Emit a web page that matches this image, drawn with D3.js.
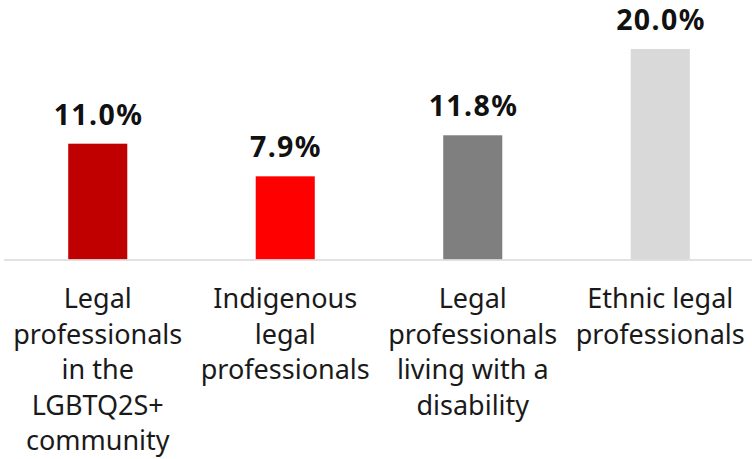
<!DOCTYPE html>
<html>
<head>
<meta charset="utf-8">
<script src="https://cdn.jsdelivr.net/npm/d3@7"></script>
<style>
  html, body { margin: 0; padding: 0; background: #ffffff; }
  svg { display: block; }
</style>
</head>
<body>
<div id="chart"></div>
<script>
// Share of legal professionals by group (%)
const categories = [
  ["Legal", "professionals", "in the", "LGBTQ2S+", "community"],
  ["Indigenous", "legal", "professionals"],
  ["Legal", "professionals", "living with a", "disability"],
  ["Ethnic legal", "professionals"]
];
const values = [11.0, 7.9, 11.8, 20.0];
const colors = ["#C00000", "#FF0000", "#7F7F7F", "#D9D9D9"];

const width = 752, height = 459;
const baseline = 259.5;

const svg = d3.select("#chart").append("svg")
  .attr("width", width)
  .attr("height", height);

const keys = categories.map((c, i) => i);

const x = d3.scaleBand()
  .domain(keys)
  .range([4, 754])
  .paddingInner(0.685)
  .paddingOuter(0.3425);

const y = d3.scaleLinear()
  .domain([0, 24.65])
  .range([baseline, 0]);

// Bars
svg.append("g").selectAll("rect")
  .data(values)
  .join("rect")
  .attr("x", (d, i) => x(i))
  .attr("width", x.bandwidth())
  .attr("y", d => y(d))
  .attr("height", d => y(0) - y(d))
  .attr("fill", (d, i) => colors[i]);

// Category axis (baseline only)
const axis = svg.append("g")
  .attr("transform", `translate(0,${baseline + 0.5})`)
  .call(d3.axisBottom(x).tickSize(0).tickFormat(""));
axis.select(".domain")
  .attr("d", "M4,0H752")
  .attr("stroke", "#D9D9D9")
  .attr("stroke-width", 1.6);

// Value labels
svg.append("g").selectAll("text")
  .data(values)
  .join("text")
  .attr("x", (d, i) => x(i) + x.bandwidth() / 2 + 0.7)
  .attr("y", d => y(d) - 19)
  .attr("text-anchor", "middle")
  .attr("font-family", "'Noto Sans', sans-serif")
  .attr("font-weight", 700)
  .attr("font-size", 28.5)
  .attr("letter-spacing", 1.4)
  .attr("fill", "#111111")
  .text(d => d.toFixed(1) + "%");

// Multi-line category labels
const labels = svg.append("g").selectAll("text")
  .data(categories)
  .join("text")
  .attr("text-anchor", "middle")
  .attr("font-family", "'Noto Sans', sans-serif")
  .attr("font-size", 27)
  .attr("fill", "#1a1a1a")
  .attr("transform", (d, i) => `translate(${x(i) + x.bandwidth() / 2},308)`);

labels.selectAll("tspan")
  .data(d => d)
  .join("tspan")
  .attr("x", 0)
  .attr("y", (d, j) => j * 35.5)
  .text(d => d);
</script>
</body>
</html>
